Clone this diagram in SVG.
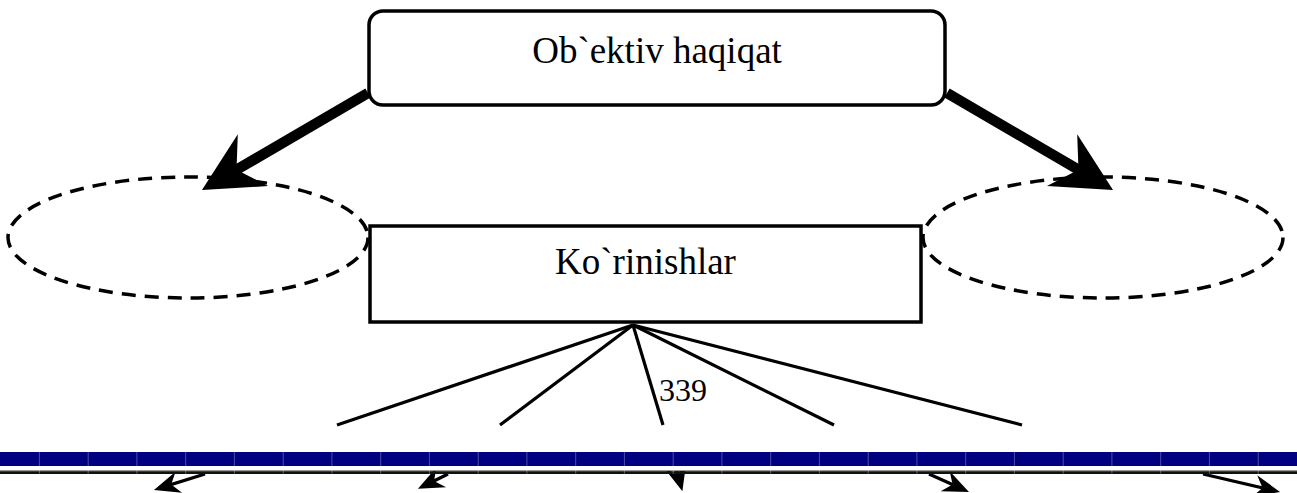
<svg xmlns="http://www.w3.org/2000/svg" width="1297" height="493" viewBox="0 0 1297 493">
  <style>
    .lbl { font-family: "Liberation Serif", "Times New Roman", serif; fill: #000; }
    .box { fill: #fff; stroke: #000; stroke-width: 3.5; }
    .oval { fill: none; stroke: #000; stroke-width: 3.5; stroke-dasharray: 14 9; }
    .big { stroke: #000; stroke-width: 10.5; fill: none; }
    .thin { stroke: #000; stroke-width: 3.2; fill: none; }
    .sep { stroke: #ffffff; stroke-opacity: 0.3; stroke-width: 1; }
  </style>
  <defs>
    <marker id="bigHead" markerUnits="userSpaceOnUse" orient="auto" refX="0" refY="0" markerWidth="100" markerHeight="100" overflow="visible">
      <path d="M35,0 L-24,-30 L-5,0 L-24,30 Z" fill="#000"/>
    </marker>
    <marker id="smallHead" markerUnits="userSpaceOnUse" orient="auto" refX="0" refY="0" markerWidth="40" markerHeight="40" overflow="visible">
      <path d="M6,0 L-20,-11 L-12,0 L-20,11 Z" fill="#000"/>
    </marker>
  </defs>

  <rect x="0" y="0" width="1297" height="493" fill="#fff"/>

  <g id="oval-left">
    <ellipse class="oval" cx="188" cy="237.5" rx="180" ry="60.5"/>
  </g>
  <g id="oval-right">
    <ellipse class="oval" cx="1103" cy="237.5" rx="180" ry="60.5"/>
  </g>

  <g id="connectors">
    <line class="big" x1="368" y1="93" x2="232.2" y2="172.3" marker-end="url(#bigHead)"/>
    <line class="big" x1="947" y1="93" x2="1082.8" y2="172.3" marker-end="url(#bigHead)"/>
    <line class="thin" x1="633" y1="325" x2="337" y2="425"/>
    <line class="thin" x1="633" y1="325" x2="500" y2="425"/>
    <line class="thin" x1="633" y1="325" x2="663" y2="425"/>
    <line class="thin" x1="633" y1="325" x2="834" y2="425"/>
    <line class="thin" x1="633" y1="325" x2="1022" y2="425"/>
    <line class="thin" x1="205" y1="474" x2="159.7" y2="488.1" marker-end="url(#smallHead)"/>
    <line class="thin" x1="448" y1="474" x2="423.3" y2="486.2" marker-end="url(#smallHead)"/>
    <line class="thin" x1="676" y1="468" x2="680.8" y2="485.5" marker-end="url(#smallHead)"/>
    <line class="thin" x1="929" y1="474" x2="963.5" y2="489.5" marker-end="url(#smallHead)"/>
    <line class="thin" x1="1203" y1="474" x2="1274.2" y2="490.6" marker-end="url(#smallHead)"/>
    <text class="lbl" x="659" y="401" font-size="32">339</text>
  </g>

  <g id="node-top">
    <rect class="box" x="369" y="11" width="576" height="94" rx="14" ry="14"/>
    <text class="lbl" x="657" y="63" font-size="37" text-anchor="middle">Ob`ektiv haqiqat</text>
  </g>

  <g id="node-middle">
    <rect class="box" x="370" y="226" width="551" height="96"/>
    <text class="lbl" x="645.5" y="274" font-size="37" text-anchor="middle">Ko`rinishlar</text>
  </g>

  <g id="page-bar">
    <rect x="0" y="452" width="1297" height="14" fill="#000080"/>
    <rect x="0" y="466" width="1297" height="4" fill="#fff"/>
    <rect x="0" y="470" width="1297" height="1.2" fill="#999"/>
    <rect x="0" y="471.2" width="1297" height="2.8" fill="#111"/>
    <g class="sep">
      <line x1="39.4" y1="452" x2="39.4" y2="474"/>
      <line x1="88.2" y1="452" x2="88.2" y2="474"/>
      <line x1="136.9" y1="452" x2="136.9" y2="474"/>
      <line x1="185.7" y1="452" x2="185.7" y2="474"/>
      <line x1="234.4" y1="452" x2="234.4" y2="474"/>
      <line x1="283.2" y1="452" x2="283.2" y2="474"/>
      <line x1="331.9" y1="452" x2="331.9" y2="474"/>
      <line x1="380.7" y1="452" x2="380.7" y2="474"/>
      <line x1="429.4" y1="452" x2="429.4" y2="474"/>
      <line x1="478.2" y1="452" x2="478.2" y2="474"/>
      <line x1="526.9" y1="452" x2="526.9" y2="474"/>
      <line x1="575.7" y1="452" x2="575.7" y2="474"/>
      <line x1="624.4" y1="452" x2="624.4" y2="474"/>
      <line x1="673.2" y1="452" x2="673.2" y2="474"/>
      <line x1="721.9" y1="452" x2="721.9" y2="474"/>
      <line x1="770.7" y1="452" x2="770.7" y2="474"/>
      <line x1="819.4" y1="452" x2="819.4" y2="474"/>
      <line x1="868.2" y1="452" x2="868.2" y2="474"/>
      <line x1="916.9" y1="452" x2="916.9" y2="474"/>
      <line x1="965.7" y1="452" x2="965.7" y2="474"/>
      <line x1="1014.4" y1="452" x2="1014.4" y2="474"/>
      <line x1="1063.2" y1="452" x2="1063.2" y2="474"/>
      <line x1="1111.9" y1="452" x2="1111.9" y2="474"/>
      <line x1="1160.7" y1="452" x2="1160.7" y2="474"/>
      <line x1="1209.4" y1="452" x2="1209.4" y2="474"/>
      <line x1="1258.2" y1="452" x2="1258.2" y2="474"/>
    </g>
  </g>
</svg>
